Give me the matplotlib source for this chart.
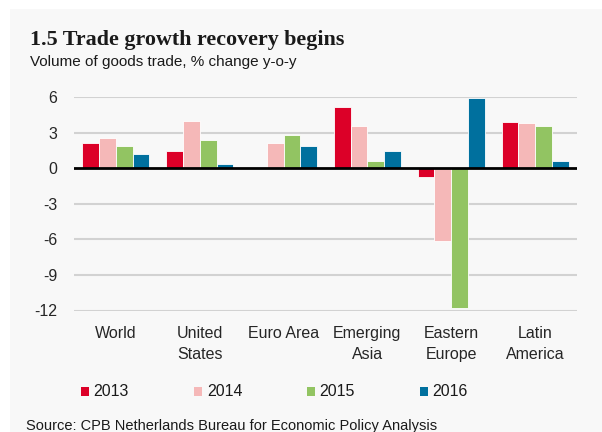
import matplotlib
matplotlib.use("Agg")
import matplotlib.pyplot as plt
import numpy as np
from matplotlib.patches import Rectangle

categories = ["World", "United\nStates", "Euro Area", "Emerging\nAsia", "Eastern\nEurope", "Latin\nAmerica"]
years = ["2013", "2014", "2015", "2016"]
v2013 = [2.1, 1.5, 0.0, 5.2, -0.75, 3.9]
v2014 = [2.6, 4.0, 2.1, 3.6, -6.1, 3.8]
v2015 = [1.9, 2.4, 2.8, 0.65, -11.8, 3.6]
v2016 = [1.2, 0.35, 1.9, 1.5, 5.9, 0.6]
yticks = [6, 3, 0, -3, -6, -9, -12]
colors = ["#DC0028", "#F5B8B8", "#92C462", "#00709E"]

SANS = ["Liberation Sans Narrow", "Liberation Sans", "DejaVu Sans"]

W, H = 602, 432
fig = plt.figure(figsize=(W/100, H/100), dpi=100)
fig.patch.set_facecolor("white")
fig.patches.append(Rectangle((10/W, 0), 1, 1 - 9/H, transform=fig.transFigure,
                             facecolor="#F8F8F8", edgecolor="none", zorder=-10))

ax = fig.add_axes([74/W, 1 - 310.5/H, (577-74)/W, (310.5-97.3)/H])
ax.set_zorder(1)
ax.set_facecolor("none")
series = [v2013, v2014, v2015, v2016]
x = np.arange(len(categories))
bw = 0.2
for i, (vals, c) in enumerate(zip(series, colors)):
    ax.bar(x + (i - 1.5) * bw, vals, width=bw, color=c, edgecolor="white",
           linewidth=0.6, label=years[i], zorder=3)

ax.set_ylim(-12, 6)
ax.set_xlim(-0.5, len(categories) - 0.5)
ax.set_yticks(yticks)
ax.set_yticklabels([str(t) for t in yticks])
for t in yticks:
    if t != 0:
        ax.axhline(t, color="#D2D2D2", linewidth=1.5, zorder=1)
ax.axhline(0, color="black", linewidth=2, zorder=4)
for s in ax.spines.values():
    s.set_visible(False)
ax.tick_params(axis="y", length=0, pad=12, labelsize=11.5, labelcolor="#262626")
ax.tick_params(axis="x", length=0, pad=11, labelsize=11.5, labelcolor="#262626")
ax.set_xticks(x)
ax.set_xticklabels(categories, linespacing=1.55)
for lab in ax.get_yticklabels() + ax.get_xticklabels():
    lab.set_family(SANS)

fig.text(30/W, 1 - 40/H, "1.5 Trade growth recovery begins", fontsize=15.8,
         fontweight="bold", family=["Liberation Serif", "DejaVu Serif"],
         va="center", ha="left", color="#1a1a1a")
fig.text(30/W, 1 - 62/H, "Volume of goods trade, % change y-o-y", fontsize=11,
         family=SANS, va="center", ha="left", color="#1a1a1a")

# legend
leg_x = [81, 194, 307, 420]
leg_tx = [93, 207, 319, 432]
for lx, tx, c, yr in zip(leg_x, leg_tx, colors, years):
    fig.patches.append(Rectangle((lx/W, 1 - 396/H), 8/W, 9/H,
                                 transform=fig.transFigure, facecolor=c,
                                 edgecolor="none", zorder=5))
    fig.text(tx/W, 1 - 392/H, yr, fontsize=11.5, family=SANS,
             va="center", ha="left", color="#1a1a1a")

fig.text(26/W, 1 - 426/H, "Source: CPB Netherlands Bureau for Economic Policy Analysis",
         fontsize=10.5, family=SANS, va="center", ha="left", color="#1a1a1a")

fig.savefig("out.png", dpi=100, facecolor=fig.get_facecolor())
